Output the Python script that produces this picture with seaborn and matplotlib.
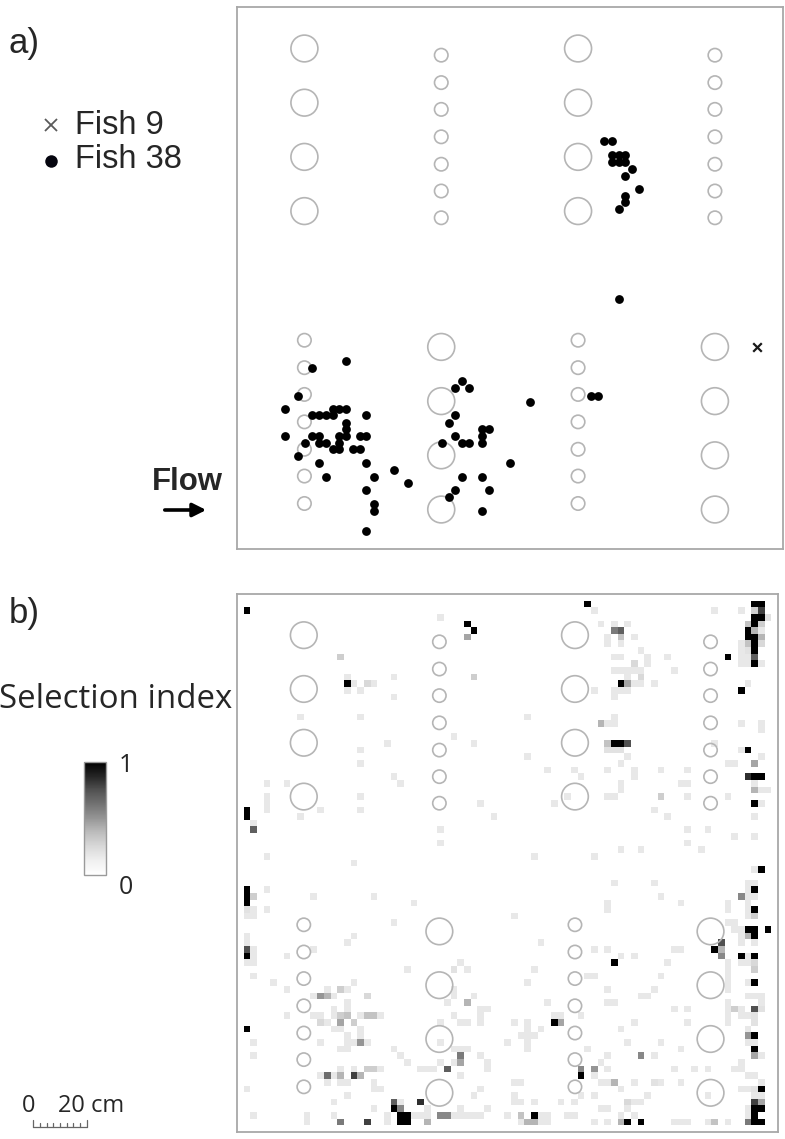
import numpy as np
import matplotlib
matplotlib.use("Agg")
import matplotlib.pyplot as plt
import seaborn as sns
from matplotlib.patches import Circle, FancyArrowPatch
from matplotlib.lines import Line2D

W, H = 785, 1139
N = 81  # grid cells (2.5 cm each)

# ---------------- tank layout (cell units, y from upstream wall downward) -------------
col_x = [10.0, 30.3, 50.6, 70.9]
big_upper_y = [6.2, 14.3, 22.4, 30.5]
small_upper_y = [7.2, 11.3, 15.3, 19.4, 23.5, 27.5, 31.5]
small_lower_y = [49.8, 53.9, 57.9, 62.0, 66.1, 70.1, 74.2]
big_lower_y = [50.8, 58.9, 67.0, 75.1]
big_r, small_r = 2.0, 1.0

# ---------------- panel a: fish positions ----------------
fish9_x = [77.1]
fish9_y = [50.8]
fish38_x = [
    54.5, 55.6, 55.6, 56.6, 57.6, 55.6, 56.6, 57.6, 58.6, 57.6, 59.6, 57.6, 57.6, 56.6,
    56.6, 43.4, 52.5, 53.6,
    16.2, 11.1, 9.1, 7.1, 14.2, 15.2, 16.2, 11.1, 12.2, 13.2, 14.2, 19.2, 16.2, 16.2,
    7.1, 11.1, 12.2, 15.2, 16.2, 18.2, 19.2,
    10.1, 12.2, 13.2, 15.2,
    14.2, 15.2, 17.2, 18.2,
    9.1, 12.2, 19.2, 23.3, 13.2, 20.3, 25.3, 19.2, 20.3, 20.3, 19.2,
    33.4, 32.4, 34.4, 32.4, 31.4, 36.4, 37.4, 32.4, 36.4, 30.4, 33.4, 34.4, 36.4,
    40.5, 33.4, 36.4, 32.4, 37.4, 31.4, 36.4]
fish38_y = [
    20.1, 20.1, 22.1, 22.1, 22.1, 23.2, 23.2, 23.2, 24.2, 25.2, 27.2, 28.2, 29.1, 30.2,
    43.7, 59.1, 58.1, 58.1,
    52.9, 53.9, 58.1, 60.1, 60.1, 60.1, 60.1, 61.0, 61.0, 61.0, 61.0, 61.0, 62.1, 63.1,
    64.1, 64.1, 64.1, 64.1, 64.1, 64.1, 64.1,
    65.1, 65.1, 65.1, 65.1,
    66.1, 66.1, 66.1, 66.1,
    67.1, 68.2, 68.2, 69.2, 70.2, 70.2, 71.2, 72.2, 74.3, 75.3, 78.3,
    55.9, 57.0, 57.0, 61.0, 62.1, 63.1, 63.1, 64.1, 64.1, 65.1, 65.1, 65.1, 65.1,
    68.2, 70.2, 70.2, 72.2, 72.2, 73.3, 75.3]

# ---------------- panel b: selection index cells (col, row[, value]) ----------------
light_value = 0.17
light_cells = [
    (16,12),(17,13),(20,13),(16,14),(18,14),(23,12),(23,15),(9,18),(18,18),(22,22),(18,23),
    (18,25),(23,27),(24,28),(4,28),(7,28),(4,30),(4,31),(4,32),(18,30),(18,32),(12,32),(9,33),
    (2,34),(4,39),(17,40),
    (30,3),(43,18),(32,21),(35,22),(43,24),(46,26),(50,26),(51,27),(49,30),(47,31),(36,31),
    (38,33),(30,35),(30,37),(44,39),
    (53,2),(54,4),(56,4),(58,4),(55,6),(59,6),(55,7),(57,7),(60,8),(56,9),(57,9),(61,9),(64,9),
    (61,10),(56,11),(57,11),(58,11),(59,11),(60,11),(65,11),(58,12),(59,13),(60,13),(62,13),
    (53,14),(56,14),(57,14),(58,14),(56,15),(56,18),(55,19),(56,19),(58,24),(57,25),(55,26),
    (59,26),(59,27),(63,26),(67,26),(57,28),(57,29),(66,28),(67,28),(55,30),(56,30),(67,30),
    (62,32),(64,33),(67,35),(70,35),(67,37),(57,38),(60,38),(69,38),(53,39),
    (71,2),(75,2),(78,5),(75,7),(75,8),(75,9),(76,9),(75,10),(76,10),(78,10),(76,13),(75,19),
    (78,19),(78,20),(71,22),(75,23),(78,24),(73,25),(74,25),(77,28),(78,29),(79,29),(78,31),
    (73,30),(77,33),(77,36),(74,36),
    (2,47),(1,48),(2,48),(4,44),(4,47),(11,45),(20,45),(26,46),(23,49),(17,51),(16,52),(1,51),
    (1,52),(2,53),(2,54),(1,55),(2,55),(7,54),(11,53),(25,56),(2,57),(5,58),(7,59),(17,58),
    (13,59),(16,59),(11,60),(14,60),(16,61),(11,63),(12,63),(14,63),(18,63),(21,63),(14,62),
    (16,62),(7,63),(13,64),(14,65),(15,65),(18,65),(16,66),(18,66),(12,67),(16,67),(17,67),
    (19,67),(2,67),(15,68),(16,68),(23,68),(24,69),(25,70),(2,69),(15,71),(17,71),(21,71),
    (12,72),(14,72),(13,73),(15,73),(16,73),(20,73),(20,74),(21,74),(1,74),(16,75),(14,76),
    (24,76),(20,77),(2,78),(10,78),(14,78),(22,78),(22,79),(10,79),
    (26,46),(41,48),(45,52),(33,55),(34,56),(44,56),(43,58),(32,59),(32,60),(35,60),(31,61),
    (46,61),(36,62),(37,62),(36,63),(32,63),(33,64),(34,64),(36,64),(30,64),(47,63),(48,63),
    (41,64),(43,64),(43,65),(42,66),(43,66),(44,66),(43,67),(43,68),(45,65),(40,67),(30,67),
    (32,68),(33,68),(34,68),(32,70),(36,69),(37,70),(37,71),(30,70),(27,71),(28,71),(29,71),
    (33,72),(41,73),(42,73),(41,75),(41,76),(42,76),(44,76),(35,75),(36,74),(28,77),(26,78),
    (27,78),(28,78),(32,78),(33,77),(33,78),(34,78),(35,78),(36,78),(37,77),(40,78),(42,79),
    (45,78),(46,78),(45,79),(46,79),(49,78),(50,78),(50,76),(48,76),(51,75),(52,57),(51,63),
    (77,41),(76,43),(77,43),(76,44),(76,45),(77,45),(76,46),(76,47),(76,48),(73,46),(73,47),
    (73,49),(74,49),(75,50),(75,51),(74,50),(75,52),(77,52),(76,54),(75,55),(76,55),(73,55),
    (73,56),(73,57),(73,58),(73,59),(76,58),(76,60),(77,60),(78,60),(78,61),(75,62),(73,61),
    (73,62),(73,63),(73,64),(75,63),(76,63),(76,65),(76,67),(77,67),(78,69),(75,70),(75,71),
    (77,72),(76,72),(78,73),(75,74),(76,74),(77,75),(78,75),(76,77),(76,78),
    (56,43),(62,43),(63,45),(66,46),(55,46),(55,47),(59,54),(53,53),(55,53),(57,54),(65,53),
    (66,53),(64,55),(53,57),(63,57),(55,59),(60,60),(61,60),(62,59),(55,61),(56,61),(65,62),
    (67,62),(59,64),(57,65),(67,64),(58,67),(63,67),(66,68),(52,68),(55,69),(62,69),(54,70),
    (53,72),(55,71),(65,71),(68,71),(70,71),(74,71),(54,73),(55,73),(59,73),(63,73),(66,73),
    (57,74),(61,75),(53,75),(59,76),(60,76),(70,75),(54,77),(55,77),(58,77),(57,78),(59,78),
    (53,79),(55,79),(65,79),(66,79),(67,79),(70,79),(73,79)]

shaded_cells = [
    (1,2,1.0),(15,9,0.3),(16,13,1.0),(19,13,0.25),(1,32,1.0),(1,33,1.0),(2,35,0.7),
    (34,4,1.0),(35,5,1.0),(34,6,0.45),(35,12,0.3),(52,1,1.0),
    (56,5,0.6),(57,5,0.7),(57,6,0.35),(59,10,0.25),(60,12,0.25),(57,13,1.0),(58,13,0.45),
    (54,19,0.4),(55,22,0.35),(56,22,1.0),(57,22,1.0),(58,22,0.75),(55,23,0.2),(56,23,0.2),
    (57,23,0.2),(63,30,0.3),
    (77,1,1.0),(78,1,1.0),(77,2,0.3),(78,2,0.8),(77,3,1.0),(78,3,1.0),(79,3,0.2),(76,4,0.35),
    (77,4,1.0),(78,4,0.3),(76,5,1.0),(77,5,0.4),(76,6,1.0),(77,6,1.0),(78,6,0.4),(76,7,0.35),
    (77,7,1.0),(78,7,0.25),(76,8,0.2),(77,8,1.0),(77,9,0.7),(77,10,1.0),(73,9,1.0),(75,14,1.0),
    (76,23,1.0),(77,25,0.45),(76,27,0.85),(77,27,1.0),(78,27,1.0),(77,29,0.4),(77,31,1.0),
    (1,44,1.0),(1,45,1.0),(1,46,1.0),(2,45,0.3),(1,47,0.2),(1,53,0.75),(1,54,1.0),(15,59,0.3),
    (12,60,0.5),(13,60,0.4),(19,60,0.25),(15,63,0.3),(16,63,0.35),(19,63,0.35),(20,63,0.35),
    (12,64,0.25),(15,64,0.45),(17,64,0.3),(1,65,1.0),(18,67,0.5),(19,71,0.3),(20,71,0.3),
    (13,72,0.65),(15,72,0.4),(17,72,0.8),(18,72,0.4),(23,76,0.7),(23,77,1.0),(24,77,0.55),
    (24,78,1.0),(25,78,1.0),(24,79,1.0),(25,79,1.0),(15,79,0.6),(19,79,0.8),
    (32,56,0.2),(34,61,0.4),(47,64,1.0),(48,64,0.45),(33,69,0.6),(33,70,0.45),(31,71,0.7),
    (27,76,0.85),(30,78,0.55),(31,78,0.55),(28,79,0.4),(42,78,0.35),(44,78,1.0),(43,79,0.4),
    (44,79,0.4),(51,71,0.55),(51,72,1.0),
    (78,41,1.0),(77,44,1.0),(75,45,0.55),(77,47,1.0),(77,48,0.3),(76,50,1.0),(77,50,1.0),
    (77,51,1.0),(76,51,0.4),(79,50,1.0),(72,52,0.75),(71,53,1.0),(72,54,0.55),(72,53,0.4),
    (75,54,1.0),(77,54,1.0),(77,55,0.25),(77,56,0.3),(77,58,1.0),(74,62,0.3),(77,62,0.75),
    (78,62,0.2),(77,63,0.2),(77,64,0.2),(76,66,0.5),(77,66,1.0),(77,68,1.0),(77,69,0.45),
    (78,74,1.0),(77,74,0.2),(77,76,0.8),(78,76,0.45),(77,77,1.0),(78,77,1.0),(77,78,1.0),
    (77,79,1.0),(78,79,1.0),(76,79,0.6),
    (56,55,1.0),(60,69,0.55),(53,71,0.5),(56,73,0.4),(62,73,0.2),(58,76,0.25),(58,79,1.0),
    (60,79,1.0),(57,79,0.4),(71,79,0.35)]

cbar_ticks = [0, 1]
scale_cells = 8  # 20 cm

# ---------------- figure ----------------
sns.set_theme(style="white")
plt.rcParams["font.family"] = ["Liberation Sans", "DejaVu Sans"]

fig = plt.figure(figsize=(W / 100, H / 100), dpi=100)


def fbox(l, t, r, b):
    return [l / W, 1 - b / H, (r - l) / W, (b - t) / H]


ax_a = fig.add_axes(fbox(237, 7, 783, 549))
ax_b = fig.add_axes(fbox(237, 594, 778, 1132))
cax = fig.add_axes(fbox(84, 762, 106, 875))

frame_col = "#a8a8a8"
circ_col = "#b5b5b5"


def draw_tank(ax):
    for i, x in enumerate(col_x):
        if i % 2 == 0:
            groups = [(big_upper_y, big_r), (small_lower_y, small_r)]
        else:
            groups = [(small_upper_y, small_r), (big_lower_y, big_r)]
        for ys, r in groups:
            for y in ys:
                ax.add_patch(Circle((x, y), r, fill=False, ec=circ_col, lw=1.2, zorder=3))


def style_frame(ax):
    ax.set_xticks([])
    ax.set_yticks([])
    ax.set_xlabel("")
    ax.set_ylabel("")
    for sp in ax.spines.values():
        sp.set_visible(True)
        sp.set_color(frame_col)
        sp.set_linewidth(1.3)


# panel a
sns.scatterplot(x=fish38_x, y=fish38_y, ax=ax_a, color="black", s=40,
                linewidth=0, legend=False, zorder=4)
sns.scatterplot(x=fish9_x, y=fish9_y, ax=ax_a, marker="x", color="#1a1a1a", s=38,
                linewidth=1.6, legend=False, zorder=4)
ax_a.set_xlim(0, N)
ax_a.set_ylim(N, 0)
draw_tank(ax_a)
style_frame(ax_a)

# panel b
sel = np.zeros((N, N))
for c, r in light_cells:
    sel[r, c] = max(sel[r, c], light_value)
for c, r, v in shaded_cells:
    sel[r, c] = max(sel[r, c], v)

sns.heatmap(sel, ax=ax_b, cmap="Greys", vmin=0, vmax=1, cbar_ax=cax,
            xticklabels=False, yticklabels=False, cbar_kws={"ticks": cbar_ticks})
draw_tank(ax_b)
style_frame(ax_b)

cbar = ax_b.collections[0].colorbar
cbar.outline.set_edgecolor("#9a9a9a")
cbar.outline.set_linewidth(1.0)
cbar.ax.tick_params(length=0, pad=9, labelsize=18)
cbar.set_ticklabels([str(t) for t in cbar_ticks])
for lab in cbar.ax.get_yticklabels():
    lab.set_fontfamily(["Open Sans", "DejaVu Sans"])
tk = cbar.ax.yaxis.get_major_ticks()
tk[0].label2.set_va("top")

# scale bar (in panel b data units, outside the frame)
sb_x0 = -30.5
sb_y = 80.3
ax_b.plot([sb_x0, sb_x0 + scale_cells], [sb_y, sb_y], color="#666666", lw=0.9, clip_on=False)
for k in range(scale_cells + 1):
    top = 79.2 if k in (0, scale_cells) else 79.6
    ax_b.plot([sb_x0 + k, sb_x0 + k], [sb_y, top], color="#666666", lw=0.9, clip_on=False)

# ---------------- texts ----------------
fig.canvas.draw()
renderer = fig.canvas.get_renderer()


def fit_text(s, x, y, width, ha="left", va="center", **kw):
    t = fig.text(x / W, 1 - y / H, s, ha=ha, va=va, fontsize=20, **kw)
    w = t.get_window_extent(renderer).width
    t.set_fontsize(20 * width / w)
    return t


fit_text("a)", 9, 43, 31)
fit_text("b)", 9, 613, 31)
t38 = fit_text("Fish 38", 75, 160, 107)
fig.text(75 / W, 1 - 125 / H, "Fish 9", ha="left", va="center", fontsize=t38.get_fontsize())
fit_text("Flow", 152, 482, 71, weight="bold")
fit_text("Selection index", 116, 700, 232, ha="center", family=["Open Sans", "DejaVu Sans"])
fig.text(58 / W, 1 - 1106 / H, "20 cm", ha="left", va="center", fontsize=17,
         family=["Open Sans", "DejaVu Sans"])
fig.text(29 / W, 1 - 1106 / H, "0", ha="center", va="center", fontsize=17,
         family=["Open Sans", "DejaVu Sans"])

# legend markers
fig.add_artist(Line2D([51 / W], [1 - 125 / H], marker="x", ms=9, mew=1.3,
                      color="#5a5a5a", ls="none", transform=fig.transFigure))
fig.add_artist(Line2D([51 / W], [1 - 161 / H], marker="o", ms=9, mew=0,
                      color="#05050f", ls="none", transform=fig.transFigure))

# flow arrow
fig.add_artist(FancyArrowPatch((162 / W, 1 - 510 / H), (209 / W, 1 - 510 / H),
                               transform=fig.transFigure, arrowstyle="-|>",
                               mutation_scale=20, lw=2.6, color="black"))

fig.savefig("out.png", dpi=100)
